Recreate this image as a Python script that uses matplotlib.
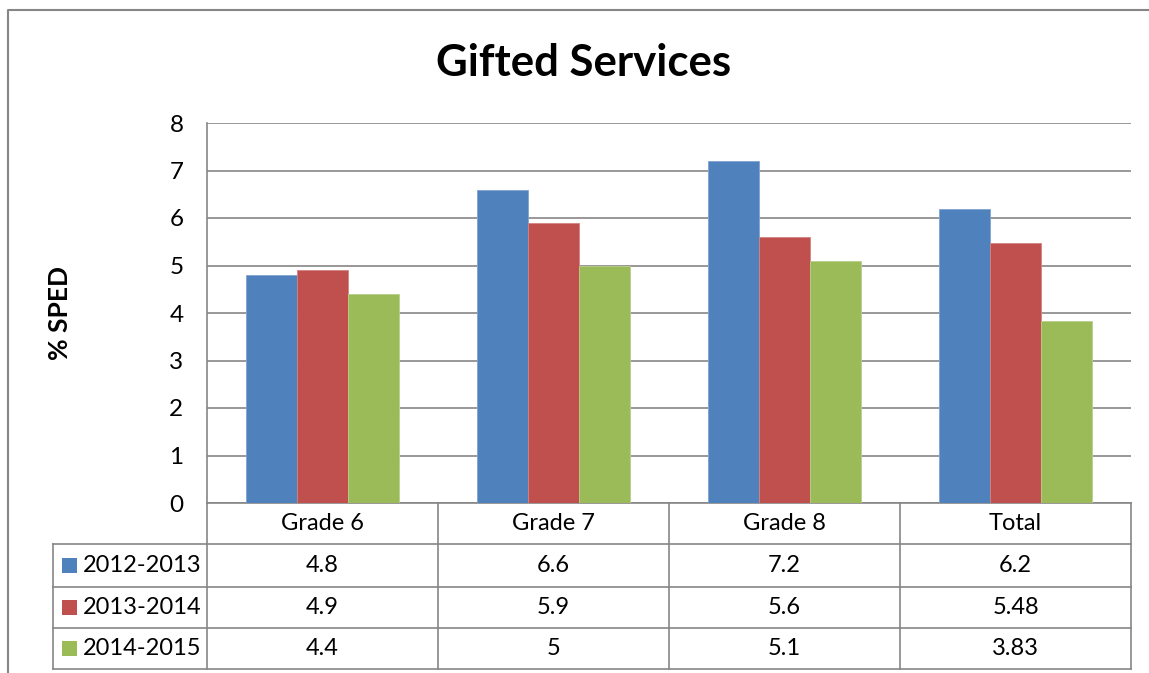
import numpy as np
import matplotlib
matplotlib.use("Agg")
import matplotlib.pyplot as plt
from matplotlib.lines import Line2D
from matplotlib.patches import Rectangle
import matplotlib.transforms as mtransforms

categories = ["Grade 6", "Grade 7", "Grade 8", "Total"]
series_names = ["2012-2013", "2013-2014", "2014-2015"]
values_2012 = [4.8, 6.6, 7.2, 6.2]
values_2013 = [4.9, 5.9, 5.6, 5.48]
values_2014 = [4.4, 5.0, 5.1, 3.83]
value_labels = [
    ["4.8", "6.6", "7.2", "6.2"],
    ["4.9", "5.9", "5.6", "5.48"],
    ["4.4", "5", "5.1", "3.83"],
]
colors = ["#4F81BD", "#C0504D", "#9BBB59"]
edge_colors = ["#7FA3D1", "#D48481", "#B8D08A"]

W, H = 1149, 673
plt.rcParams["font.family"] = ["Lato", "DejaVu Sans"]

fig = plt.figure(figsize=(W / 100, H / 100), dpi=100)

# plot area in pixel terms
x0, x1, ytop, ybot = 207, 1131, 123, 503
ax = fig.add_axes([x0 / W, 1 - ybot / H, (x1 - x0) / W, (ybot - ytop) / H])

grid_col = "#868686"
x = np.arange(len(categories))
bw = 0.22
for i, vals in enumerate([values_2012, values_2013, values_2014]):
    ax.bar(x + (i - 1) * bw, vals, bw, color=colors[i], edgecolor=edge_colors[i],
           linewidth=0.6, zorder=3)

ax.set_xlim(-0.5, len(categories) - 0.5)
ax.set_ylim(0, 8)
ax.set_yticks(range(0, 9))
ax.yaxis.grid(True, color=grid_col, linewidth=1.2, zorder=0)
ax.set_xticks([])
ax.tick_params(axis="y", length=0, pad=17, labelsize=17.5)
for side in ["top", "right", "bottom"]:
    ax.spines[side].set_visible(False)
ax.spines["left"].set_color(grid_col)
ax.spines["left"].set_linewidth(1.2)

ax.set_ylabel("% SPED", fontsize=19, fontweight="bold", va="center")
ax.yaxis.set_label_coords(-(x0 - 60) / (x1 - x0), 0.5)

fig.text(584 / W, 1 - 63 / H, "Gifted Services", fontsize=31.5, fontweight="bold",
         ha="center", va="center")

# data table under the axis, columns tied to the category positions
trans = mtransforms.blended_transform_factory(ax.transData, ax.transAxes)
span = ybot - ytop
colw = (x1 - x0) / len(categories)
row_px = [503, 544, 587, 628, 669]
row_y = [(ybot - r) / span for r in row_px]
left_x = -0.5 - (x0 - 53) / colw
right_x = len(categories) - 0.5
lw = 1.2
fs = 17

def hline(y, xa, xb):
    ax.add_line(Line2D([xa, xb], [y, y], transform=trans, color=grid_col,
                       linewidth=lw, clip_on=False))

def vline(xv, ya, yb):
    ax.add_line(Line2D([xv, xv], [ya, yb], transform=trans, color=grid_col,
                       linewidth=lw, clip_on=False))

hline(row_y[0], -0.5, right_x)
for r in row_y[1:]:
    hline(r, left_x, right_x)
vline(left_x, row_y[1], row_y[4])
for b in np.arange(len(categories) + 1) - 0.5:
    vline(b, row_y[0], row_y[4])

for j, cat in enumerate(categories):
    ax.text(j, (row_y[0] + row_y[1]) / 2, cat, transform=trans, ha="center",
            va="center", fontsize=fs)
for i in range(3):
    yc = (row_y[i + 1] + row_y[i + 2]) / 2
    for j in range(len(categories)):
        ax.text(j, yc, value_labels[i][j], transform=trans, ha="center",
                va="center", fontsize=fs)
    # legend key square
    key_h = 15 / span
    key_w = 15 / colw
    kx = left_x + 9 / colw
    ax.add_patch(Rectangle((kx, yc - key_h / 2), key_w, key_h, transform=trans,
                           facecolor=colors[i], edgecolor="none", clip_on=False))
    ax.text(kx + key_w + 6 / colw, yc, series_names[i],
            transform=trans, ha="left", va="center", fontsize=fs)

# chart frame
fig.add_artist(Line2D([8 / W, 8 / W, 1.0], [0, 1 - 10 / H, 1 - 10 / H],
                      transform=fig.transFigure, color=grid_col, linewidth=1.5))

fig.savefig("out.png", dpi=100)
